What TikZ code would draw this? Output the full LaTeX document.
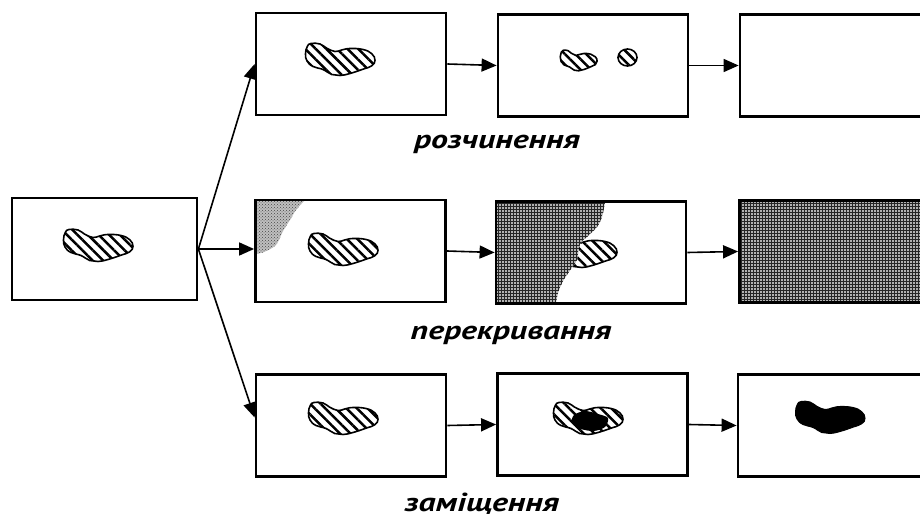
\documentclass[tikz,border=0pt]{standalone}
\usepackage{fontspec}
\newfontfamily\labfont{PT Sans}
\usetikzlibrary{arrows.meta,patterns,patterns.meta}
\tikzset{
  blob/.pic={\path[pic actions] plot[smooth cycle, tension=0.75] coordinates {
    (6,-0.5) (15,-1.0) (21.7,-5.2) (30,-8.5) (36.7,-7.0) (45,-5.5) (58,-6.5)
    (66.7,-10.7) (70,-17.3) (66.7,-22.8) (58,-26.2) (45,-30.5) (35,-32.5)
    (26.7,-31.5) (18,-26.5) (8,-23.5) (2,-18) (0.5,-10.7) (2.3,-3.5)};}
}
\begin{document}
\begin{tikzpicture}[x=1pt,y=1pt,
  box/.style={draw, line width=2.8pt, minimum width=190pt, minimum height=102pt, inner sep=0pt},
  conn/.style={line width=1.6pt, -{Triangle[length=15pt,width=13pt]}},
  hatch/.style={draw, line width=1.6pt, preaction={fill=white}, pattern={Lines[angle=-45,distance=7.5pt,line width=2.5pt]}},
  inkblob/.style={draw, fill=black, line width=1pt},
  grain/.style={fill=gray!60, postaction={pattern=grid, pattern color=gray!30!black}},
  speckle/.style={fill=gray!50, postaction={pattern=crosshatch dots, pattern color=gray!55!black}},
  lab/.style={font=\labfont\bfseries\itshape\fontsize{26}{30}\selectfont, anchor=base, xscale=1.3}
]
\path[use as bounding box] (0,0) rectangle (920,-518);
\clip (0,0) rectangle (920,-518);

% contents
\pic[hatch] at (63,-229) {blob};
\pic[hatch] at (305,-43) {blob};
\pic[hatch, xscale=0.53, yscale=0.64] at (560,-50) {blob};
\draw[hatch] (627.5,-57.5) ellipse (9.5 and 8.5);
% overlap row
\fill[speckle] (256,-200) -- plot[smooth] coordinates {(305,-200) (296,-210) (290,-220) (283,-231) (276,-245) (264,-252) (256,-254)} -- cycle;
\pic[hatch] at (308,-233) {blob};
\pic[hatch] at (547,-235) {blob};
\fill[grain] (495,-202) -- plot[smooth] coordinates {(605,-202) (602,-217) (597,-227) (587,-237) (580,-244) (577,-260) (571,-269) (563,-281) (558,-293) (556,-303)} -- (495,-303) -- cycle;
\fill[grain] (739,-200) rectangle (930,-303);
% replacement row
\pic[hatch] at (308,-402) {blob};
\pic[hatch] at (553,-402) {blob};
\fill[black] plot[smooth cycle] coordinates {(574,-415) (585,-411) (598,-414) (608,-418) (605,-427) (594,-431) (581,-429) (572,-423)};
\pic[inkblob] at (795,-401) {blob};

% boxes
\node[box, minimum width=185pt] (L) at (104.5,-249) {};
\node[box] (r1a) at (351,-64) {};
\node[box] (r1b) at (593,-65.5) {};
\node[box] (r1c) at (835,-65.5) {};
\node[box] (r2a) at (350.5,-251) {};
\node[box] (r2b) at (591,-252.5) {};
\node[box] (r2c) at (834.5,-251.5) {};
\node[box] (r3a) at (351,-425.5) {};
\node[box] (r3b) at (592.5,-424.5) {};
\node[box] (r3c) at (833,-425.5) {};

% connectors
\draw[conn] (L.east) -- (r1a.west);
\draw[conn] (L.east) -- (L.east -| r2a.west);
\draw[conn] (L.east) -- ([yshift=8pt]r3a.west);
\draw[conn] (r1a.east) -- (r1b.west);
\draw[conn] (r1b.east) -- (r1c.west);
\draw[conn] (r2a.east) -- (r2b.west);
\draw[conn] (r2b.east) -- (r2c.west);
\draw[conn] (r3a.east) -- (r3b.west);
\draw[conn] (r3b.east) -- (r3c.west);

% labels
\node[lab] (t1) at (497,-149) {розчинення};
\node[lab] (t2) at (511,-339) {перекривання};
\node[lab] (t3) at (482,-511) {заміщення};
\end{tikzpicture}
\end{document}
